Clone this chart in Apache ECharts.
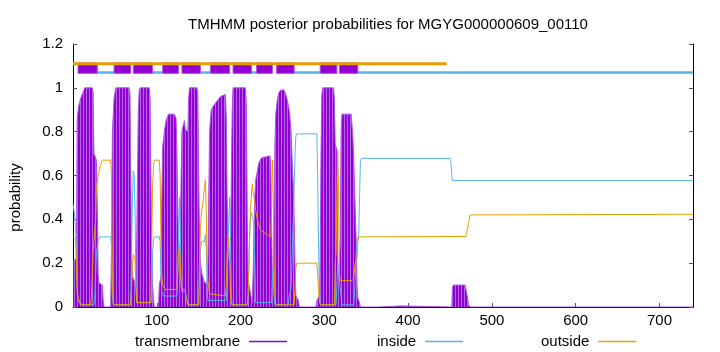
<!DOCTYPE html>
<html><head><meta charset="utf-8">
<script src="https://cdn.jsdelivr.net/npm/echarts@6/dist/echarts.min.js"></script>
<style>html,body{margin:0;padding:0;background:#fff}#c{width:720px;height:352px}</style>
</head><body><div id="c"></div>
<script>
// ---- data ----
const titleText = 'TMHMM posterior probabilities for MGYG000000609_00110';
const seriesNames = ['transmembrane', 'inside', 'outside'];
const xTicks = [100, 200, 300, 400, 500, 600, 700];
const yTicks = [0, 0.2, 0.4, 0.6, 0.8, 1, 1.2];

const transmembrane = [
[0,0.21],[1,0.21],[4,0.22],[5,0.86],[7,0.92],[9,0.95],[11,0.97],[13,0.99],[14,1.0],[23,1.0],[24,0.98],[25,0.7],[27,0.68],[28,0.67],[29,0.45],[30,0.15],[31,0.11],[35,0.1],[36,0.03],[37,0],
[45,0],[46,0.3],[47,0.8],[49,0.95],[51,1.0],[67,1.0],[68,0.97],[69,0.6],[70,0.2],[71,0.14],[73,0.12],[75,0.1],[76,0.3],[77,0.6],[78,0.9],[79,0.99],[80,1.0],[91,1.0],[92,0.95],[93,0.6],[94,0.25],[95,0.1],[96,0.04],[97,0],
[102,0],[103,0.1],[105,0.14],[106,0.5],[107,0.73],[109,0.8],[111,0.85],[114,0.88],[121,0.88],[123,0.86],[124,0.73],[125,0.45],[126,0.3],[127,0.23],[128,0.3],[129,0.6],[130,0.8],[131,0.82],[133,0.85],[134,0.81],[137,0.8],[138,0.95],[139,1.0],[148,1.0],[149,0.97],[150,0.6],[151,0.3],[152,0.2],[154,0.15],[156,0.12],[160,0.1],[161,0.2],[162,0.5],[163,0.8],[165,0.9],[168,0.92],[172,0.94],[176,0.96],[182,0.97],[183,0.85],[184,0.5],[185,0.3],[186,0.22],[188,0.25],[189,0.6],[190,0.9],[191,1.0],[206,1.0],[207,0.9],[208,0.4],[209,0.12],[211,0.08],[213,0.04],[214,0.02],[215,0.15],[216,0.35],[217,0.5],[218,0.58],[220,0.62],[222,0.66],[225,0.68],[235,0.69],[236,0.65],[237,0.4],[238,0.1],[239,0.08],[240,0.4],[241,0.75],[242,0.88],[244,0.95],[246,0.98],[248,0.99],[252,0.99],[254,0.97],[256,0.94],[258,0.9],[260,0.82],[261,0.73],[262,0.62],[263,0.55],[264,0.4],[265,0.2],[266,0.05],[269,0.03],[270,0],
[290,0],[291,0.03],[294,0.05],[295,0.2],[296,0.7],[297,0.97],[298,1.0],[311,1.0],[312,0.95],[313,0.74],[315,0.72],[316,0.2],[317,0.1],[318,0.1],[319,0.3],[320,0.8],[321,0.88],[332,0.88],[333,0.83],[334,0.78],[335,0.68],[336,0.55],[337,0.42],[338,0.3],[339,0.1],[340,0.04],[342,0.02],[343,0],
[365,0],[366,0.005],[390,0.005],[391,0],
[452,0],[453,0.09],[454,0.1],[468,0.1],[469,0.08],[471,0.04],[472,0.01],[474,0],[740,0]
];

const inside = [
[0,0.47],[1,0.47],[2,0.42],[4,0.3],[5,0.1],[6,0.04],[8,0.02],[12,0.01],[25,0.01],[26,0.05],[27,0.15],[28,0.25],[30,0.3],[32,0.32],[45,0.32],[46,0.28],[47,0.05],[48,0.01],[68,0.01],[69,0.05],[70,0.3],[71,0.5],[72,0.62],[73,0.6],[74,0.45],[75,0.15],[76,0.02],[93,0.02],[94,0.1],[95,0.25],[96,0.3],[97,0.32],[103,0.32],[104,0.3],[105,0.15],[106,0.07],[108,0.05],[124,0.05],[125,0.15],[126,0.35],[127,0.5],[128,0.35],[129,0.1],[130,0.07],[134,0.07],[136,0.03],[138,0.01],[150,0.01],[151,0.2],[152,0.27],[154,0.3],[157,0.3],[158,0.33],[159,0.28],[160,0.1],[161,0.03],[183,0.03],[184,0.1],[185,0.3],[187,0.5],[188,0.3],[189,0.05],[190,0.01],[208,0.01],[209,0.05],[210,0.2],[211,0.35],[212,0.42],[213,0.43],[214,0.41],[215,0.4],[216,0.37],[217,0.2],[218,0.02],[237,0.02],[238,0.15],[239,0.18],[240,0.05],[241,0.01],[257,0.01],[258,0.05],[260,0.08],[261,0.15],[262,0.3],[263,0.4],[264,0.55],[265,0.7],[266,0.78],[267,0.79],[291,0.79],[292,0.6],[293,0.3],[294,0.1],[295,0.02],[296,0.01],[314,0.01],[315,0.1],[316,0.2],[317,0.15],[318,0.12],[320,0.05],[321,0.01],[335,0.01],[336,0.05],[337,0.15],[338,0.25],[339,0.3],[341,0.33],[342,0.5],[343,0.66],[344,0.678],[450,0.678],[451,0.66],[452,0.6],[453,0.577],[740,0.577]
];

const outside = [
[0,0.32],[1,0.32],[3,0.32],[4,0.2],[5,0.06],[7,0.03],[9,0.01],[21,0.01],[22,0.05],[24,0.25],[25,0.3],[27,0.4],[28,0.55],[30,0.6],[33,0.65],[35,0.67],[45,0.67],[46,0.6],[47,0.1],[48,0.02],[49,0.01],[69,0.01],[70,0.1],[71,0.2],[72,0.24],[74,0.22],[75,0.1],[76,0.02],[93,0.02],[94,0.3],[95,0.55],[96,0.64],[97,0.67],[103,0.67],[104,0.6],[105,0.3],[106,0.14],[107,0.1],[110,0.08],[124,0.08],[125,0.15],[126,0.25],[127,0.27],[128,0.2],[129,0.1],[130,0.08],[134,0.08],[135,0.04],[137,0.01],[150,0.01],[151,0.15],[152,0.35],[153,0.42],[155,0.47],[157,0.55],[158,0.58],[159,0.45],[160,0.2],[161,0.12],[163,0.06],[182,0.05],[183,0.1],[184,0.25],[186,0.32],[187,0.2],[188,0.05],[189,0.01],[208,0.01],[209,0.05],[210,0.2],[211,0.35],[212,0.45],[213,0.52],[214,0.56],[215,0.52],[216,0.5],[217,0.48],[218,0.44],[220,0.4],[222,0.37],[224,0.35],[228,0.34],[232,0.33],[236,0.32],[237,0.45],[238,0.67],[239,0.5],[240,0.2],[241,0.05],[242,0.01],[264,0.01],[265,0.1],[266,0.18],[267,0.2],[291,0.2],[292,0.15],[293,0.08],[294,0.03],[295,0.01],[312,0.01],[313,0.2],[314,0.25],[315,0.5],[316,0.71],[317,0.5],[318,0.15],[319,0.12],[333,0.12],[335,0.13],[337,0.2],[339,0.22],[340,0.3],[341,0.32],[469,0.322],[470,0.33],[472,0.38],[474,0.42],[475,0.423],[740,0.423]
];

// predicted topology shown above the curves
const tmSegments = [[6,29],[49,69],[72,95],[107,126],[130,152],[164,187],[191,213],[219,238],[243,264],[295,315],[318,340]];
const insideSegments = [[29,49],[95,107],[152,164],[213,219],[264,295],[340,740]];
const outsideSegments = [[0,446]];
const topLevels = {outside: 1.11, inside: 1.07, boxTop: 1.114, boxBottom: 1.066};

// ---- chart ----
const COLORS = {tm: '#9400d3', tmEdge: '#ad55e2', inside: '#56b4e9', outside: '#e69f00'};
const FONT = 'Liberation Sans';

const pat = document.createElement('canvas');
pat.width = 3; pat.height = 4;
const g = pat.getContext('2d');
g.fillStyle = COLORS.tm; g.fillRect(0, 0, 3, 4);
g.fillStyle = '#b068e6'; g.fillRect(2, 0, 1, 4);

function segLine(color, width, level) {
  return function (params, api) {
    const a = api.coord([api.value(0), level]);
    const b = api.coord([api.value(1), level]);
    return {type: 'line', shape: {x1: a[0], y1: a[1], x2: b[0], y2: b[1]},
            style: {stroke: color, lineWidth: width}};
  };
}

const chart = echarts.init(document.getElementById('c'));
const legendCommon = {
  top: 329, align: 'right', itemWidth: 38, itemHeight: 1.5, icon: 'rect',
  selectedMode: false,
  textStyle: {fontFamily: FONT, fontSize: 15, color: '#000', padding: [0, 4, 0, 0]}
};
chart.setOption({
  animation: false,
  backgroundColor: '#fff',
  title: {
    text: titleText, left: 383, top: 12, textAlign: 'center',
    textStyle: {fontFamily: FONT, fontSize: 15, fontWeight: 'normal', color: '#000'}
  },
  legend: [
    Object.assign({}, legendCommon, {left: 130, data: [seriesNames[0]]}),
    Object.assign({}, legendCommon, {left: 372, data: [seriesNames[1]]}),
    Object.assign({}, legendCommon, {left: 536, data: [seriesNames[2]]})
  ],
  grid: {left: 73, right: 27, top: 44, bottom: 45, containLabel: false},
  xAxis: {
    type: 'value', min: 0, max: 740, interval: 100,
    axisLine: {show: true, onZero: false, lineStyle: {color: '#000', width: 1}},
    axisTick: {show: true, inside: true, length: 4, lineStyle: {color: '#555'}},
    splitLine: {show: false},
    axisLabel: {
      fontFamily: FONT, fontSize: 15, color: '#000', margin: 6, showMaxLabel: false,
      formatter: v => xTicks.indexOf(v) >= 0 ? String(v) : ''
    }
  },
  yAxis: [{
    type: 'value', min: 0, max: 1.2, interval: 0.2,
    name: 'probability', nameLocation: 'middle', nameGap: 50,
    nameTextStyle: {fontFamily: FONT, fontSize: 15, color: '#000', padding: [0, 44, 0, 0]},
    axisLine: {show: true, lineStyle: {color: '#000', width: 1}},
    axisTick: {show: true, inside: true, length: 4, lineStyle: {color: '#555'}},
    splitLine: {show: false},
    axisLabel: {
      fontFamily: FONT, fontSize: 15, color: '#000', margin: 10,
      formatter: v => { const t = yTicks.find(k => Math.abs(k - v) < 1e-9); return t === undefined ? '' : String(t); }
    }
  }, {
    type: 'value', min: 0, max: 1.2, interval: 0.2, position: 'right',
    axisLine: {show: true, lineStyle: {color: '#000', width: 1}},
    axisTick: {show: true, inside: true, length: 4, lineStyle: {color: '#555'}},
    axisLabel: {show: false}, splitLine: {show: false}
  }],
  series: [
    {
      name: seriesNames[0], type: 'line', data: transmembrane, symbol: 'none',
      color: COLORS.tm, z: 2,
      lineStyle: {color: COLORS.tmEdge, width: 1},
      areaStyle: {color: {image: pat, repeat: 'repeat'}, opacity: 1}
    },
    {
      name: seriesNames[1], type: 'line', data: inside, symbol: 'none',
      color: COLORS.inside, z: 3, lineStyle: {color: COLORS.inside, width: 1}
    },
    {
      name: seriesNames[2], type: 'line', data: outside, symbol: 'none',
      color: COLORS.outside, z: 4, lineStyle: {color: COLORS.outside, width: 1}
    },
    {
      type: 'custom', data: insideSegments, z: 5, silent: true,
      encode: {x: [0, 1]},
      renderItem: segLine(COLORS.inside, 2.5, topLevels.inside)
    },
    {
      type: 'custom', data: tmSegments, z: 6, silent: true,
      encode: {x: [0, 1]},
      renderItem: function (params, api) {
        const a = api.coord([api.value(0), topLevels.boxTop]);
        const b = api.coord([api.value(1), topLevels.boxBottom]);
        return {type: 'rect', shape: {x: a[0], y: a[1], width: b[0] - a[0], height: b[1] - a[1]},
                style: {fill: COLORS.tm, stroke: COLORS.tmEdge, lineWidth: 1}};
      }
    },
    {
      type: 'custom', data: outsideSegments, z: 7, silent: true,
      encode: {x: [0, 1]},
      renderItem: segLine(COLORS.outside, 3, topLevels.outside)
    }
  ]
});
</script>
</body></html>
